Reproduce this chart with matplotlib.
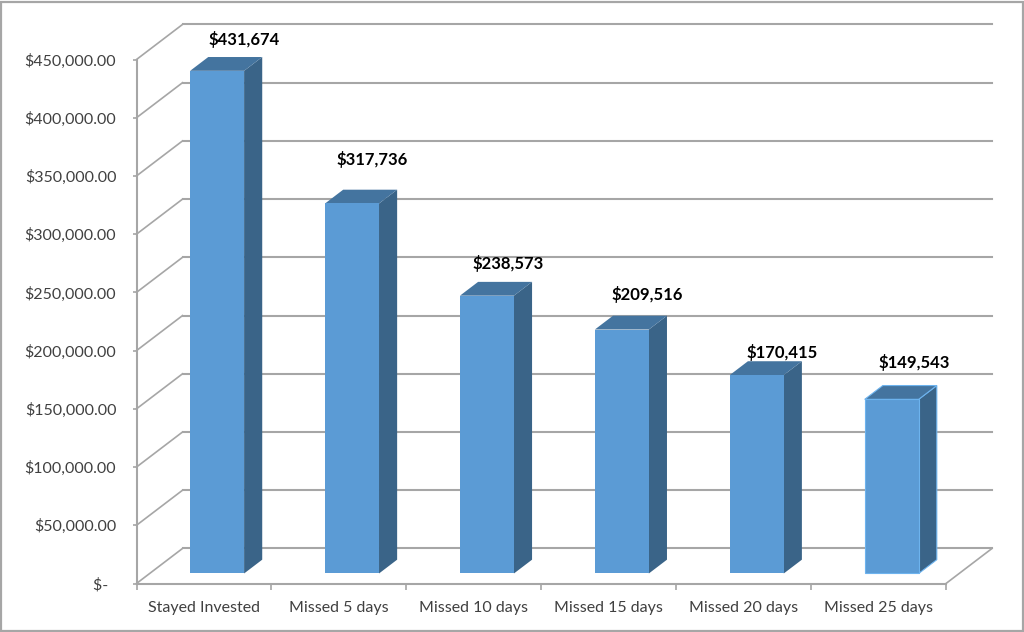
import matplotlib
matplotlib.use("Agg")
import matplotlib.pyplot as plt
from matplotlib.patches import Rectangle

categories = ["Stayed Invested", "Missed 5 days", "Missed 10 days",
              "Missed 15 days", "Missed 20 days", "Missed 25 days"]
values = [431674, 317736, 238573, 209516, 170415, 149543]
y_ticks = [0, 50000, 100000, 150000, 200000, 250000, 300000, 350000, 400000, 450000]

# hand placed data labels, offset from the bar front top centre (pixels)
label_dx = [27, 20, 21, 25, 25, 22]
label_dy = [31, 44, 32, 35, 23, 37]

W, H = 1024, 632
GREY = "#a6a6a6"
TEXT = "#404040"
FRONT = "#5b9bd5"
SIDE = "#3a6488"
TOP = "#44749f"

# fake 3d: depth 1 is the back wall, in data units
DEPTH_X = 46 / 134.9
DEPTH_Y = 35 / 523.5 * 450000
BAR_NEAR = 0.286
BAR_FAR = 0.68
BAR_HALF = 0.2


def project(x, y, d):
    return x + d * DEPTH_X, y + d * DEPTH_Y


plt.rcParams["font.family"] = ["Lato", "DejaVu Sans"]
fig = plt.figure(figsize=(W / 100, H / 100), dpi=100)
ax = fig.add_axes([136.5 / W, 1 - 583.5 / H, 809.5 / W, 524 / H])
ax.set_xlim(-0.5, 5.5)
ax.set_ylim(0, 450000)

# outer border of the picture
fig.add_artist(Rectangle((1 / W, 1.5 / H), 1021.5 / W, 629 / H, transform=fig.transFigure,
                         fill=False, edgecolor=GREY, linewidth=1.6))

# back wall lines and left wall diagonals
for t in y_ticks:
    x0, y0 = project(-0.5, t, 1)
    x1, y1 = project(5.5, t, 1)
    ax.plot([x0, x1], [y0, y1], color=GREY, lw=1.5, clip_on=False, zorder=1)
    ax.plot([-0.5, x0], [t, y0], color=GREY, lw=1.2, clip_on=False, zorder=1)

# right edge of the floor
x1, y1 = project(5.5, 0, 1)
ax.plot([5.5, x1], [0, y1], color=GREY, lw=1.2, clip_on=False, zorder=1)

for i, v in enumerate(values):
    lx = i - BAR_HALF
    rx = i + BAR_HALF
    edge = "#6db3ee" if i == len(values) - 1 else "none"
    front = [project(lx, 0, BAR_NEAR), project(rx, 0, BAR_NEAR),
             project(rx, v, BAR_NEAR), project(lx, v, BAR_NEAR)]
    side = [project(rx, 0, BAR_NEAR), project(rx, 0, BAR_FAR),
            project(rx, v, BAR_FAR), project(rx, v, BAR_NEAR)]
    top = [project(lx, v, BAR_NEAR), project(rx, v, BAR_NEAR),
           project(rx, v, BAR_FAR), project(lx, v, BAR_FAR)]
    for poly, col in [(side, SIDE), (top, TOP), (front, FRONT)]:
        ax.fill(*zip(*poly), facecolor=col, edgecolor=edge, linewidth=0.8,
                clip_on=False, zorder=3)
    ax.annotate("${:,}".format(v), project(i, v, BAR_NEAR),
                xytext=(label_dx[i] * 0.72, label_dy[i] * 0.72), textcoords="offset points",
                ha="center", va="center", fontsize=12, fontweight="bold",
                color="black", zorder=5, annotation_clip=False)

for s in ["top", "right"]:
    ax.spines[s].set_visible(False)
for s in ["left", "bottom"]:
    ax.spines[s].set_color(GREY)
    ax.spines[s].set_linewidth(1.5)
    ax.spines[s].set_zorder(2)

ax.set_yticks(y_ticks)
ax.set_yticklabels(["$-" + "  "] + ["${:,.2f}".format(t) for t in y_ticks[1:]])
ax.tick_params(axis="y", length=3, width=1.2, color=GREY, labelcolor=TEXT,
               labelsize=11.5, pad=11.5)

# ticks between categories, labels centred on them
ax.set_xticks([i - 0.5 for i in range(len(categories) + 1)])
ax.set_xticklabels([])
ax.set_xticks(range(len(categories)), minor=True)
ax.set_xticklabels(categories, minor=True)
ax.tick_params(axis="x", which="major", length=4, width=1.2, color=GREY)
ax.tick_params(axis="x", which="minor", length=0, labelcolor=TEXT, labelsize=11.5, pad=12.5)

fig.savefig("out.png", dpi=100)
